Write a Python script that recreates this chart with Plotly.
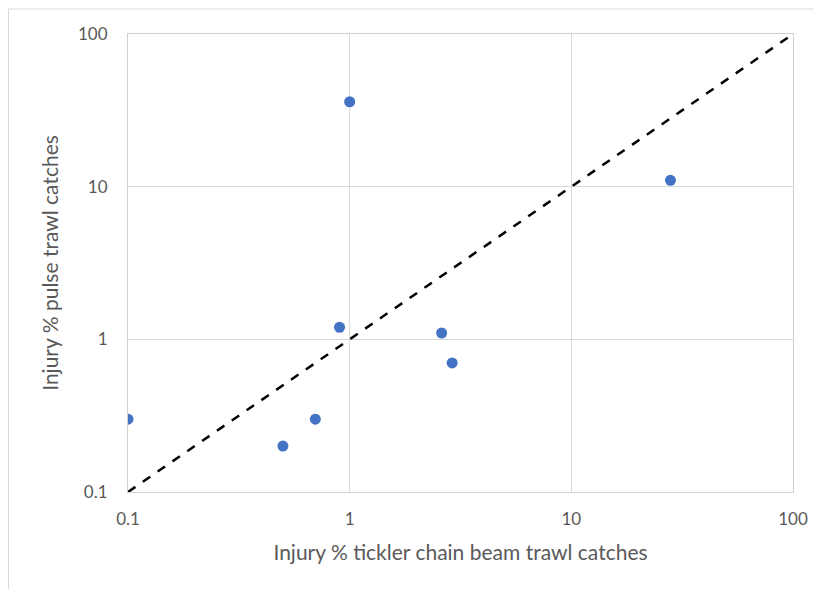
import plotly.graph_objects as go

# injury percentages per species: tickler chain (x) vs pulse trawl (y)
tickler = [0.1, 0.5, 0.7, 0.9, 1.0, 2.6, 2.9, 28]
pulse = [0.3, 0.2, 0.3, 1.2, 36, 1.1, 0.7, 11]
line_1to1 = [0.1, 100]
tick_vals = [0.1, 1, 10, 100]
tick_text = ["0.1", "1", "10", "100"]

grey = "#595959"
font = "Lato, 'Open Sans', sans-serif"

fig = go.Figure()

fig.add_trace(go.Scatter(
    x=line_1to1, y=line_1to1,
    mode="lines",
    line=dict(color="black", dash="dash", width=2.5),
    showlegend=False,
))

fig.add_trace(go.Scatter(
    x=tickler, y=pulse,
    mode="markers",
    marker=dict(color="#4472C4", size=11),
    showlegend=False,
))

axis_common = dict(
    type="log",
    range=[-1, 2],
    tickvals=tick_vals,
    ticktext=tick_text,
    showgrid=True,
    gridcolor="#D9D9D9",
    gridwidth=1,
    showline=True,
    linecolor="#D0D0D0",
    linewidth=1,
    mirror=True,
    zeroline=False,
    ticks="outside",
    tickcolor="rgba(0,0,0,0)",
    tickfont=dict(family=font, size=17, color=grey),
)

# plot area is 665 x 458 px
fig.update_layout(
    width=813,
    height=581,
    margin=dict(l=120, r=28, t=26, b=97),
    paper_bgcolor="white",
    plot_bgcolor="white",
    xaxis=dict(
        **axis_common,
        ticklen=12,
        title=dict(text="Injury % tickler chain beam trawl catches",
                   font=dict(family=font, size=21, color=grey), standoff=16),
    ),
    yaxis=dict(
        **axis_common,
        ticklen=16,
        title=dict(text="Injury % pulse trawl catches",
                   font=dict(family=font, size=21, color=grey), standoff=13),
    ),
    shapes=[dict(
        type="rect", xref="paper", yref="paper",
        x0=-119.5 / 665, x1=1 + 60 / 665, y0=-0.4, y1=1 + 25 / 458,
        line=dict(color="#D9D9D9", width=1), layer="below",
    )],
)

fig.write_html("out.html")
